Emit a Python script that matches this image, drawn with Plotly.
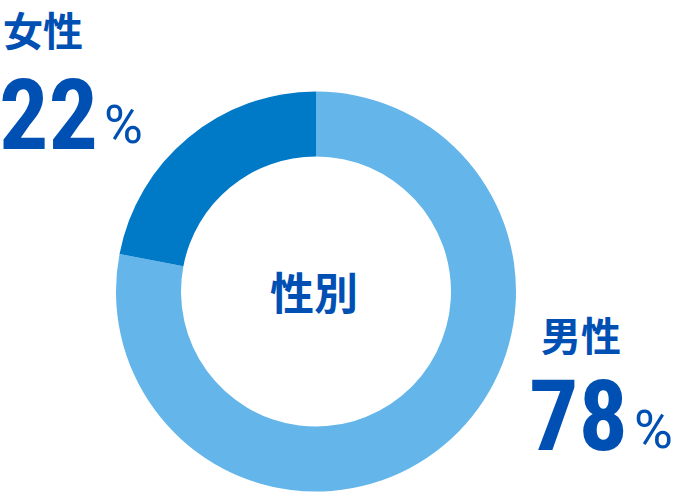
import plotly.graph_objects as go

W, H = 674, 492

labels = ["男性", "女性"]
values = [78, 22]
colors = ["#63b5ea", "#0079c6"]
center_title = "性別"

TEXT_COLOR = "#0050b4"
CJK_FONT = "Noto Sans CJK JP"
NUM_FONT = "Roboto Condensed, Roboto"


def px_x(x):
    return x / W


def px_y(y):
    return 1 - y / H


# where each label block sits (pixels: left edge, label centre y, number centre y, % left, % centre y)
LABEL_POS = {
    "男性": dict(x=539, label_y=334, num_x=527, num_y=416, pct_x=632, pct_y=430),
    "女性": dict(x=1, label_y=29, num_x=-3, num_y=115, pct_x=102, pct_y=125),
}

fig = go.Figure(
    go.Pie(
        labels=labels,
        values=values,
        marker=dict(colors=colors, line=dict(width=0)),
        hole=0.675,
        sort=False,
        direction="clockwise",
        rotation=0,
        textinfo="none",
        hoverinfo="label+percent",
        domain=dict(x=[px_x(116), px_x(516)], y=[px_y(491.5), px_y(91.5)]),
    )
)

annotations = [
    dict(
        text=center_title,
        x=px_x(314),
        y=px_y(291),
        xanchor="center",
        yanchor="middle",
        showarrow=False,
        font=dict(family=CJK_FONT, size=44, color=TEXT_COLOR, weight="bold"),
    )
]
for label, value in zip(labels, values):
    p = LABEL_POS[label]
    annotations.append(
        dict(
            text=label,
            x=px_x(p["x"]),
            y=px_y(p["label_y"]),
            xanchor="left",
            yanchor="middle",
            showarrow=False,
            font=dict(family=CJK_FONT, size=40, color=TEXT_COLOR, weight="bold"),
        )
    )
    annotations.append(
        dict(
            text=str(value),
            x=px_x(p["num_x"]),
            y=px_y(p["num_y"]),
            xanchor="left",
            yanchor="middle",
            showarrow=False,
            font=dict(family=NUM_FONT, size=98, color=TEXT_COLOR, weight="bold"),
        )
    )
    annotations.append(
        dict(
            text="%",
            x=px_x(p["pct_x"]),
            y=px_y(p["pct_y"]),
            xanchor="left",
            yanchor="middle",
            showarrow=False,
            font=dict(family="Roboto", size=53, color=TEXT_COLOR, weight=400),
        )
    )

fig.update_layout(
    width=W,
    height=H,
    showlegend=False,
    margin=dict(l=0, r=0, t=0, b=0),
    paper_bgcolor="white",
    plot_bgcolor="white",
    annotations=annotations,
)

# drop the default page margin so the figure sits at the window's corner
fig.write_html(
    "out.html",
    config={"displayModeBar": False},
    post_script="document.body.style.margin = '0';",
)
